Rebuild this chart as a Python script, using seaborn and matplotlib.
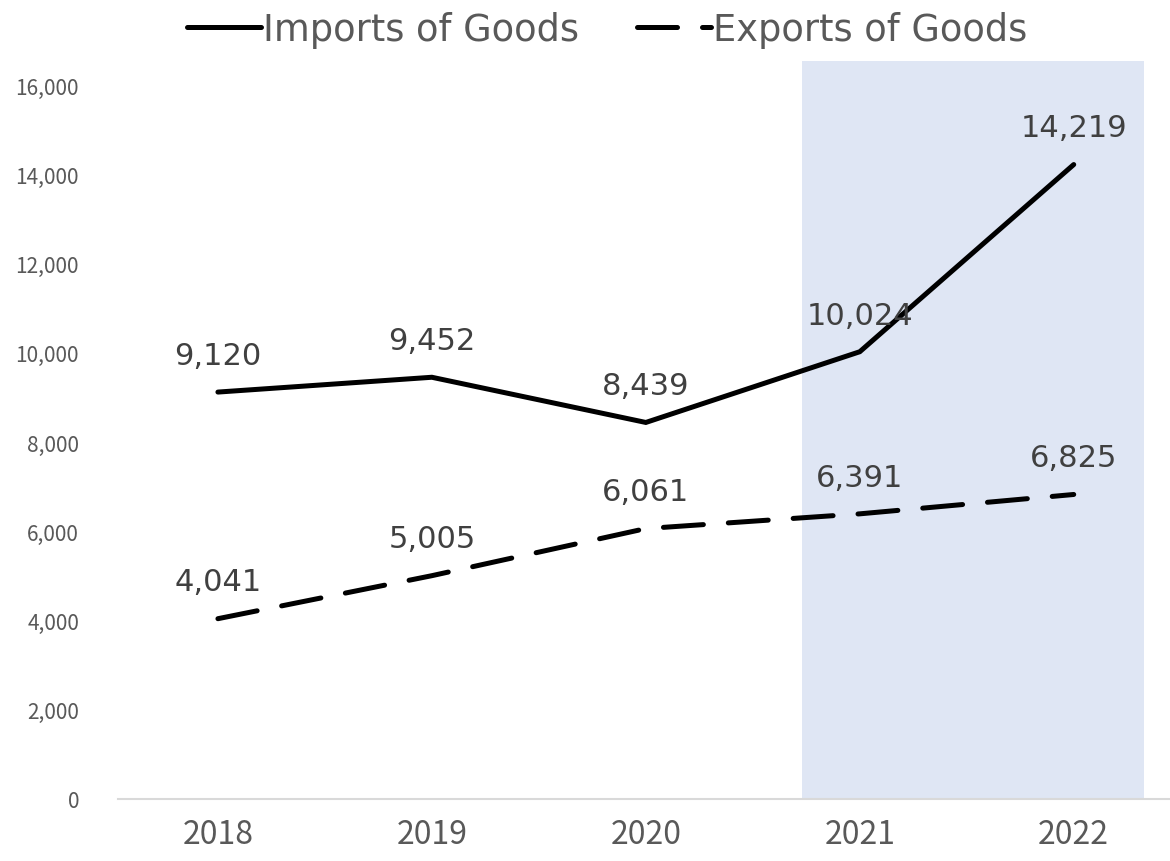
import matplotlib
matplotlib.use("Agg")
import matplotlib.pyplot as plt
import seaborn as sns
import pandas as pd

years = ["2018", "2019", "2020", "2021", "2022"]
imports = [9120, 9452, 8439, 10024, 14219]
exports = [4041, 5005, 6061, 6391, 6825]
series_names = ["Imports of Goods", "Exports of Goods"]
yticks = [0, 2000, 4000, 6000, 8000, 10000, 12000, 14000, 16000]

sns.set_theme(style="white")
plt.rcParams['font.family'] = ['DejaVu Sans']

df = pd.DataFrame({"x": list(range(len(years))) * 2,
                   "value": imports + exports,
                   "series": [series_names[0]] * 5 + [series_names[1]] * 5})

fig = plt.figure(figsize=(11.7, 8.62), dpi=100)
ax = fig.add_axes([118/1170, (862-800)/862, (1170-118)/1170, (800-62)/862])

lw = 3.6
ax.axvspan(2.73, 4.33, ymin=0, ymax=1, color="#dfe6f4", zorder=0, lw=0)

sns.lineplot(data=df[df.series == series_names[0]], x="x", y="value", ax=ax,
             color="black", lw=lw, label=series_names[0],
             solid_capstyle="round", solid_joinstyle="miter")
sns.lineplot(data=df[df.series == series_names[1]], x="x", y="value", ax=ax,
             color="black", lw=lw, label=series_names[1], linestyle=(0, (8, 5)),
             dash_capstyle="round")

for vals in (imports, exports):
    for i, v in enumerate(vals):
        ax.annotate(f"{v:,}", (i, v), xytext=(0, 16), textcoords="offset points",
                    ha="center", va="bottom", fontsize=22, color="#404040")

ax.set_xlim(-0.467, 4.45)
ax.set_ylim(0, 16540)
ax.set_xticks(range(len(years)))
ax.set_xticklabels(years, fontsize=23, color="#595959", family=["Noto Sans CJK JP", "DejaVu Sans"])
ax.set_yticks(yticks)
ax.set_yticklabels([f"{t:,}" for t in yticks], fontsize=15, color="#595959",
                   family=["Noto Sans CJK JP", "DejaVu Sans"])
ax.tick_params(axis="x", length=0, pad=14)
ax.tick_params(axis="y", length=0, pad=28)
ax.set_xlabel("")
ax.set_ylabel("")
for s in ["top", "right", "left"]:
    ax.spines[s].set_visible(False)
ax.spines["bottom"].set_color("#d9d9d9")
ax.spines["bottom"].set_linewidth(1.5)
ax.grid(False)

leg = ax.legend(loc="center", bbox_to_anchor=(0.465, 1.043), ncol=2, frameon=False,
                handlelength=2.0, handletextpad=0.05, columnspacing=1.6,
                prop={"family": ["DejaVu Sans"], "size": 26.5})
for t in leg.get_texts():
    t.set_color("#595959")

fig.savefig("out.png", dpi=100)
